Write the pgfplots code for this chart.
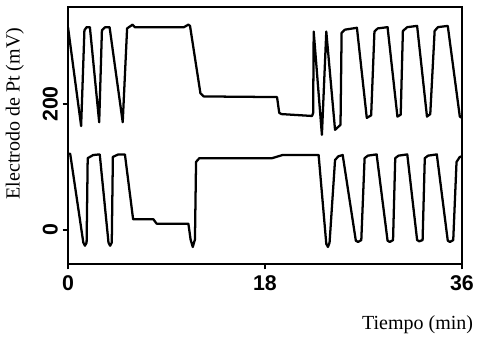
\documentclass[border=0pt]{standalone}
\usepackage{fontspec}
\setmainfont{Liberation Serif}
\newfontfamily\tickfont{Liberation Sans}
\usepackage{pgfplots}
\pgfplotsset{compat=1.18}
\begin{document}
\begin{tikzpicture}
\path[use as bounding box] (-51pt,-56.25pt) rectangle (309pt,198pt);
\begin{axis}[
  scale only axis,
  width=295.5pt, height=192.75pt,
  xmin=0, xmax=36, ymin=-54, ymax=354,
  xtick={0,18,36}, ytick={0,200},
  tick pos=left, tick align=outside,
  major tick length=4pt,
  axis line style={line width=1.5pt},
  every tick/.style={line width=1.2pt, black},
  /pgf/number format/assume math mode=true,
  ticklabel style={font=\tickfont\bfseries\fontsize{16}{18}\selectfont},
  xticklabel shift=1pt,
  yticklabel style={rotate=90, anchor=south},
  xlabel={Tiempo (min)},
  ylabel={Electrodo de Pt (mV)},
  label style={font=\fontsize{15}{18}\selectfont},
  xlabel style={at={(axis description cs:1.04,-0.237)}, anchor=east},
  ylabel style={at={(axis description cs:-0.135,0.585)}, anchor=center},
]
\addplot[line width=1.7pt, black, line join=round] coordinates {
(0,322) (1.2,165) (1.5,317) (1.7,322) (2.0,322) (2.85,171) (3.1,317) (3.4,322) (3.8,322)
(5.0,171) (5.4,320) (5.9,326) (6.1,322) (10.6,322) (11.0,326) (11.15,324) (12.1,217) (12.4,212)
(19.1,211) (19.3,186) (19.5,184) (22.3,181) (22.4,186) (22.45,315) (23.2,151) (23.6,315)
(24.4,159) (24.9,167) (25.0,313) (25.3,318) (26.4,321) (27.3,178) (27.7,182) (28.0,315)
(28.3,320) (29.2,322) (30.1,180) (30.4,183) (30.6,316) (31.0,322) (31.9,324) (32.8,180)
(33.1,184) (33.5,316) (33.8,322) (34.7,324) (35.8,180) (36,178)
};
\addplot[line width=1.7pt, black, line join=round] coordinates {
(0,121) (0.2,121) (1.4,-20) (1.55,-25) (1.7,-20) (1.8,114) (2.3,119) (2.9,120)
(3.7,-20) (3.85,-25) (4.0,-20) (4.1,116) (4.6,120) (5.2,120) (5.95,17) (7.8,17) (8.1,10)
(11.0,10) (11.2,-15) (11.4,-27) (11.6,-15) (11.7,108) (12.0,114) (18.65,114) (19.6,119)
(22.9,119) (23.6,-22) (23.75,-27) (23.9,-20) (24.4,111) (24.7,117) (25.1,119)
(26.3,-17) (26.5,-19) (26.8,-16) (27.1,114) (27.4,118) (28.2,120) (29.2,-17) (29.4,-19)
(29.7,-16) (29.9,114) (30.2,118) (31.0,120) (31.9,-16) (32.1,-18) (32.4,-16) (32.6,114)
(32.9,118) (33.7,120) (34.7,-17) (34.9,-19) (35.2,-16) (35.5,108) (35.8,116) (36,117)
};
\end{axis}
\end{tikzpicture}
\end{document}
